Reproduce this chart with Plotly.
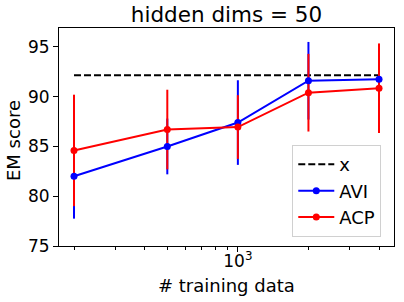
import plotly.graph_objects as go

n_train = [200, 500, 1000, 2000, 4000]
avi_mean = [82.0, 85.0, 87.4, 91.6, 91.75]
avi_err = [4.25, 2.8, 4.25, 3.9, 3.4]
acp_mean = [84.6, 86.7, 86.95, 90.4, 90.85]
acp_err = [5.6, 4.0, 3.2, 3.9, 4.5]
baseline = [92.15, 92.15]
baseline_x = [200, 4000]
x_ticks = [1000]
x_ticktext = ["10<sup>3</sup>"]
y_ticks = [75, 80, 85, 90, 95]

FONT = "DejaVu Sans"
L, R, T, B = 59, 10, 28, 56
W, H = 404, 302
pw, ph = W - L - R, H - T - B

fig = go.Figure()
fig.add_trace(go.Scatter(x=baseline_x, y=baseline, mode="lines", name="x",
                         line=dict(color="black", width=2, dash="7px,3px")))
# error bars beneath data lines, like matplotlib
for m, e, c in [(avi_mean, avi_err, "blue"), (acp_mean, acp_err, "red")]:
    fig.add_trace(go.Scatter(x=n_train, y=m, mode="markers", showlegend=False,
                             marker=dict(size=1, opacity=0, color=c),
                             error_y=dict(type="data", array=e, visible=True,
                                          color=c, thickness=2, width=0),
                             hoverinfo="skip"))
fig.add_trace(go.Scatter(x=n_train, y=avi_mean, mode="lines+markers", name="AVI",
                         line=dict(color="blue", width=2),
                         marker=dict(color="blue", size=7)))
fig.add_trace(go.Scatter(x=n_train, y=acp_mean, mode="lines+markers", name="ACP",
                         line=dict(color="red", width=2),
                         marker=dict(color="red", size=7)))

fig.update_layout(
    width=W, height=H,
    margin=dict(l=L, r=R, t=T, b=B, autoexpand=False),
    plot_bgcolor="white", paper_bgcolor="white",
    font=dict(family=FONT, size=16, color="black"),
    title=dict(text="hidden dims = 50", x=(L + pw / 2) / W, xanchor="center",
               y=1 - 14 / H, yanchor="middle", font=dict(size=21.5)),
    showlegend=True,
    legend=dict(x=0.962, y=0.041, xanchor="right", yanchor="bottom",
                bgcolor="white", bordercolor="#d0d0d0", borderwidth=1,
                font=dict(size=18), tracegroupgap=0, itemwidth=36),
    annotations=[
        dict(text="# training data", xref="paper", yref="paper",
             x=0.5, y=-(285 - (H - B)) / ph, xanchor="center", yanchor="middle",
             showarrow=False, font=dict(size=18)),
        dict(text="EM score", xref="paper", yref="paper", textangle=-90,
             x=-(L - 13) / pw, y=1 - (141 - T) / ph, xanchor="center", yanchor="middle",
             showarrow=False, font=dict(size=18)),
    ],
)
fig.update_xaxes(type="log", range=[2.237, 3.666],
                 tickmode="array", tickvals=x_ticks, ticktext=x_ticktext,
                 ticks="outside", ticklen=5, tickwidth=1, tickcolor="black",
                 ticklabelstandoff=-5,
                 minor=dict(tickmode="array",
                            tickvals=[200, 300, 400, 500, 600, 700, 800, 900, 2000, 3000, 4000],
                            ticks="outside", ticklen=3, tickwidth=1, tickcolor="black", showgrid=False),
                 showgrid=False, zeroline=False,
                 showline=True, linecolor="black", linewidth=1, mirror=True,
                 tickfont=dict(size=17))
fig.update_yaxes(range=[75, 96.9], tickvals=y_ticks,
                 ticks="outside", ticklen=5, tickwidth=1, tickcolor="black",
                 showgrid=False, zeroline=False,
                 showline=True, linecolor="black", linewidth=1, mirror=True,
                 tickfont=dict(size=17))

fig.write_html("out.html", config={"displayModeBar": False},
               post_script="document.body.style.margin='0';document.body.style.padding='0';")
